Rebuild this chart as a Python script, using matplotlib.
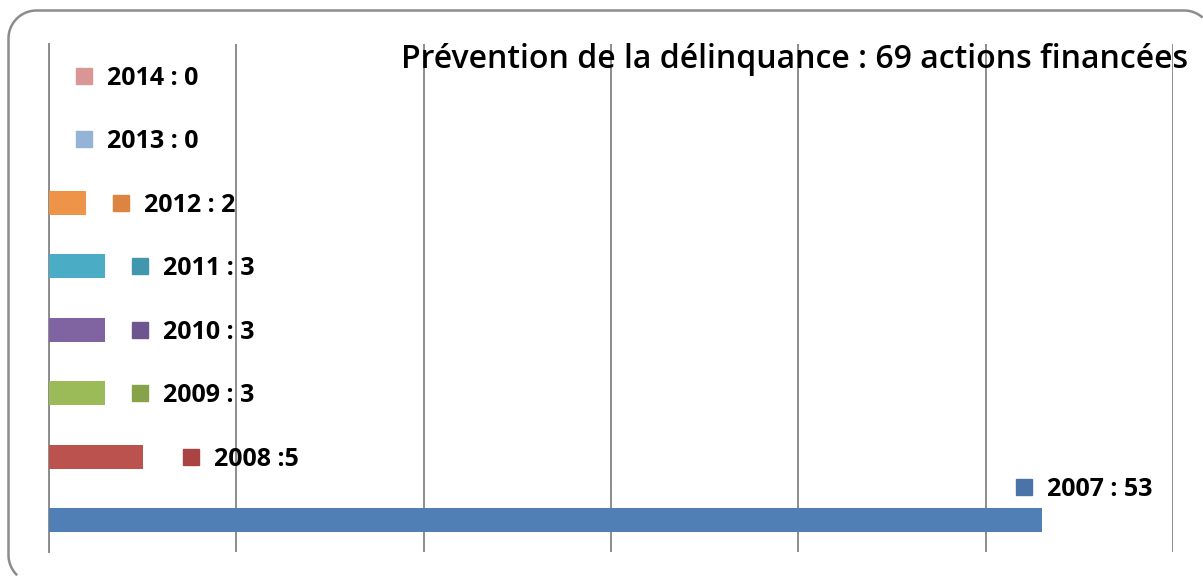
import numpy as np
import matplotlib
matplotlib.use("Agg")
import matplotlib.pyplot as plt
from matplotlib.lines import Line2D
from matplotlib.transforms import offset_copy

years = ["2007", "2008", "2009", "2010", "2011", "2012", "2013", "2014"]
values = [53, 5, 3, 3, 3, 2, 0, 0]
labels = ["2007 : 53", "2008 :5", "2009 : 3", "2010 : 3", "2011 : 3", "2012 : 2", "2013 : 0", "2014 : 0"]
title = "Prévention de la délinquance : 69 actions financées"

bar_colors = ["#4F7FB5", "#BC524E", "#9BBB59", "#8064A2", "#4BACC6", "#EE9448", "#95B3D7", "#D99694"]
key_colors = ["#4A73A8", "#A94442", "#86A34A", "#6E5590", "#4197AD", "#DD8440", "#95B3D7", "#D99694"]
# label key offsets in pixels from bar end (dx, dy)
offsets = [(-18, 33), (48, 0), (35, 0), (35, 0), (35, 0), (35, 0), (35, 0), (35, 0)]

W, H = 1203, 576
fig = plt.figure(figsize=(W / 100, H / 100), dpi=100)
fig.patch.set_facecolor("white")

# visible part of the rounded frame, pixel units (image coords, y down)
x0, x1, yt, yb, r = 8.5, 1212, 10.5, 583, 28
pts = []
for cx, cy, a0 in [(x0 + r, yb - r, 90), (x0 + r, yt + r, 180), (x1 - r, yt + r, 270)]:
    ang = np.radians(np.linspace(a0, a0 + 90, 40))
    pts += list(zip(cx + r * np.cos(ang), cy + r * np.sin(ang)))
px = np.array([p for p in pts if p[0] <= W - 1 and p[1] <= H - 1])
frame = Line2D(px[:, 0] / W, 1 - px[:, 1] / H, transform=fig.transFigure,
               color="#8C8C8C", linewidth=1.8, clip_on=False)
fig.lines.append(frame)

ax = fig.add_axes([49 / W, (H - 552) / H, (1173 - 49) / W, (552 - 44) / H])
ypos = list(range(len(years)))
ax.barh(ypos, values, height=0.38, color=bar_colors, zorder=3)
ax.set_xlim(0, 60)
ax.set_ylim(-0.5, 7.5)
ax.set_xticks(range(0, 61, 10))
ax.set_xticklabels([])
ax.set_yticks([])
ax.tick_params(axis="x", length=0)
ax.grid(axis="x", color="#8C8C8C", linewidth=1.4, zorder=0)
for s in ["top", "right", "bottom"]:
    ax.spines[s].set_visible(False)
ax.spines["left"].set_color("#8C8C8C")
ax.spines["left"].set_linewidth(1.4)

font = ["Open Sans", "DejaVu Sans"]
for i, (v, lab) in enumerate(zip(values, labels)):
    dx, dy = offsets[i]
    tr = offset_copy(ax.transData, fig=fig, x=dx, y=dy, units="dots")
    ax.plot([v], [i], marker="s", markersize=11, color=key_colors[i],
            linestyle="none", transform=tr, zorder=5, clip_on=False)
    ax.annotate(lab, xy=(v, i), xytext=((dx + 23) * 0.72, (dy - 9) * 0.72),
                textcoords="offset points", ha="left", va="baseline", color="black",
                fontsize=18, fontweight="bold", family=font, zorder=5)

fig.text(401 / W, 1 - 68 / H, title, ha="left", va="baseline", fontsize=23,
         fontweight="semibold", family=font)

fig.savefig("out.png", dpi=100)
